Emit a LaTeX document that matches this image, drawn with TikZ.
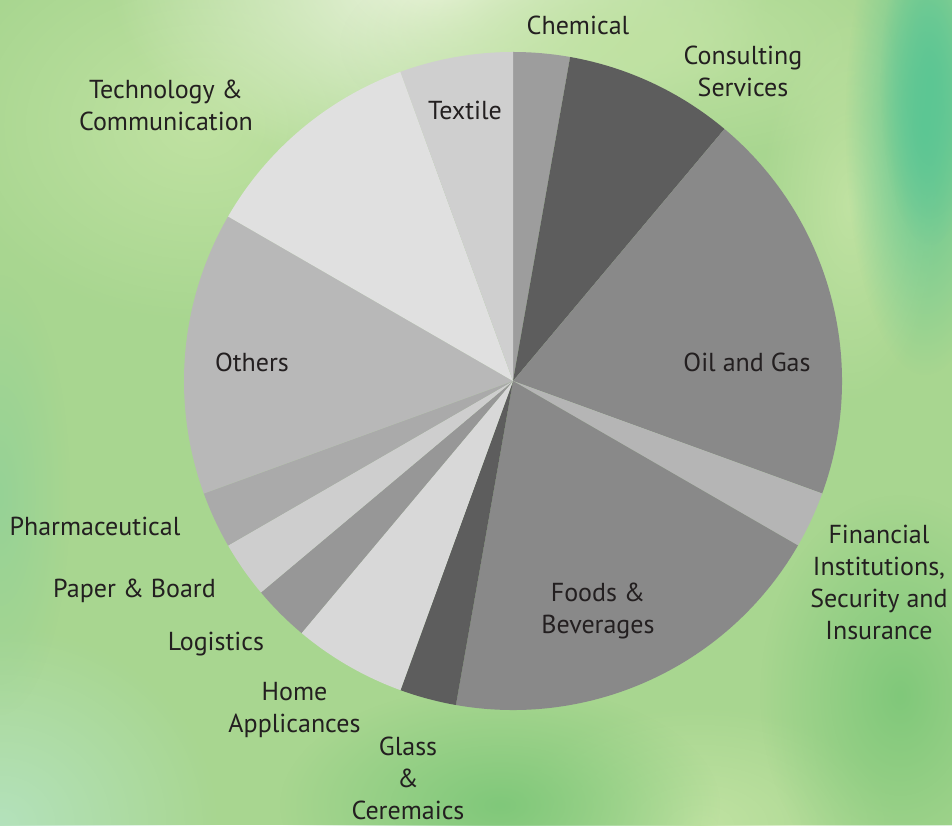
\documentclass[tikz,border=0pt]{standalone}
\usepackage{fontspec}
\setmainfont{PT Sans}
\usetikzlibrary{fadings}
\tikzfading[name=softspot, inner color=transparent!0, outer color=transparent!100]
\definecolor{bgbase}{HTML}{A8D690}
\definecolor{bglight}{HTML}{EEF5E0}
\definecolor{bgteal}{HTML}{5CC694}
\definecolor{bgdark}{HTML}{80C87A}
\definecolor{bgpale}{HTML}{B4E2BC}
\definecolor{bgmid}{HTML}{C0E2A2}
\definecolor{bgside}{HTML}{96D296}
\definecolor{txt}{HTML}{231F20}
\definecolor{gChem}{HTML}{9D9D9D}
\definecolor{gDark}{HTML}{5D5D5D}
\definecolor{gMid}{HTML}{898989}
\definecolor{gFin}{HTML}{B5B5B5}
\definecolor{gHome}{HTML}{D8D8D8}
\definecolor{gLog}{HTML}{979797}
\definecolor{gPaper}{HTML}{CECECE}
\definecolor{gPharma}{HTML}{AAAAAA}
\definecolor{gOthers}{HTML}{B8B8B8}
\definecolor{gTech}{HTML}{E0E0E0}
\definecolor{gTextile}{HTML}{CFCFCF}
\tikzset{
  lbl/.style={text=txt, align=center, inner sep=0pt, font=\fontsize{26}{32}\selectfont},
  spot/.style={fill=#1, path fading=softspot},
}
\newcommand{\pieslice}[3]{\fill[#3] (C) -- ++(#1:329) arc[start angle=#1, end angle=#2, radius=329] -- cycle;}
\begin{document}
\begin{tikzpicture}[x=1pt,y=1pt]
\useasboundingbox (0,0) rectangle (952,825);
% background
\fill[bgbase] (0,0) rectangle (952,825);
\begin{scope}
\clip (0,0) rectangle (952,825);
\fill[spot=bgmid] (200,700) ellipse (260 and 200);
\fill[spot=bglight] (440,840) ellipse (330 and 190);
\fill[spot=bgmid] (640,780) ellipse (300 and 120);
\fill[spot=bgmid] (850,620) ellipse (90 and 200);
\fill[spot=bgteal] (925,700) ellipse (80 and 250);
\fill[spot=bgteal] (930,740) ellipse (50 and 160);
\fill[spot=bgpale] (0,0) ellipse (220 and 200);
\fill[spot=bgmid] (700,0) ellipse (200 and 120);
\fill[spot=bgdark] (500,20) ellipse (220 and 120);
\fill[spot=bgdark] (900,130) ellipse (140 and 200);
\fill[spot=bgside] (0,330) ellipse (70 and 220);
\end{scope}
% pie
\coordinate (C) at (513,444);
\pieslice{90}{80}{gChem}
\pieslice{80}{50}{gDark}
\pieslice{50}{-20}{gMid}
\pieslice{-20}{-30}{gFin}
\pieslice{-30}{-100}{gMid}
\pieslice{-100}{-110}{gDark}
\pieslice{-110}{-130}{gHome}
\pieslice{-130}{-140}{gLog}
\pieslice{-140}{-150}{gPaper}
\pieslice{-150}{-160}{gPharma}
\pieslice{-160}{-210}{gOthers}
\pieslice{-210}{-250}{gTech}
\pieslice{-250}{-270}{gTextile}
% labels
\node[lbl] (chem) at (578,800) {Chemical};
\node[lbl] (cons) at (743,754) {Consulting\\Services};
\node[lbl] (text) at (465,715) {Textile};
\node[lbl] (tech) at (166,720) {Technology \&\\Communication};
\node[lbl] (oth) at (252,463) {Others};
\node[lbl] (oil) at (747,463) {Oil and Gas};
\node[lbl] (fin) at (879,243) {Financial\\Institutions,\\Security and\\Insurance};
\node[lbl] (food) at (598,214) {Foods \&\\Beverages};
\node[lbl] (pha) at (95,299) {Pharmaceutical};
\node[lbl] (pap) at (134.5,234) {Paper \& Board};
\node[lbl] (log) at (216,181) {Logistics};
\node[lbl] (home) at (294.5,115) {Home\\Applicances};
\node[lbl] (gla) at (408,47) {Glass\\\&\\Ceremaics};
\end{tikzpicture}
\end{document}
